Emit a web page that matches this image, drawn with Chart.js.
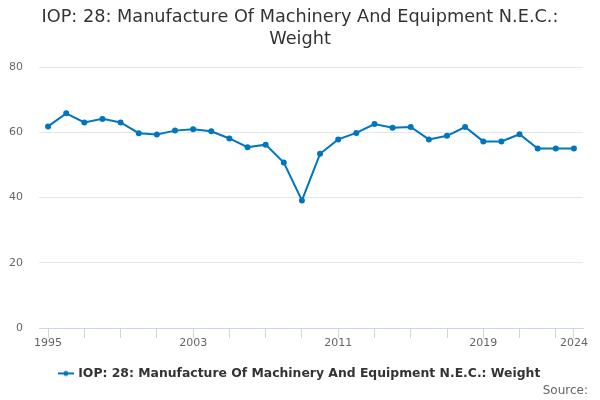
<!DOCTYPE html>
<html>
<head>
<meta charset="utf-8">
<script src="https://cdn.jsdelivr.net/npm/chart.js@4"></script>
<style>
  html, body { margin: 0; padding: 0; background: #fff; }
  #wrap { width: 600px; height: 400px; }
</style>
</head>
<body>
<div id="wrap"><canvas id="chart"></canvas></div>
<script>
const years = ['1995','1996','1997','1998','1999','2000','2001','2002','2003','2004',
  '2005','2006','2007','2008','2009','2010','2011','2012','2013','2014',
  '2015','2016','2017','2018','2019','2020','2021','2022','2023','2024']
const weight = [61.8, 65.8, 63.0, 64.1, 63.0, 59.7, 59.3, 60.5, 60.9, 60.3,
  58.1, 55.4, 56.2, 50.7, 39.1, 53.4, 57.8, 59.8, 62.5, 61.4,
  61.6, 57.8, 58.9, 61.6, 57.2, 57.2, 59.4, 55.0, 55.0, 55.0]
const yTicks = [0, 20, 40, 60, 80]

const seriesName = 'IOP: 28: Manufacture Of Machinery And Equipment N.E.C.: Weight'
const sourceText = 'Source:'
const blue = '#0076bf'
const font = "'DejaVu Sans', sans-serif"

// legend symbol: short line with a dot in the middle
const sym = document.createElement('canvas')
sym.width = 16
sym.height = 8
const sctx = sym.getContext('2d')
sctx.strokeStyle = blue
sctx.lineWidth = 2
sctx.beginPath()
sctx.moveTo(0, 4)
sctx.lineTo(16, 4)
sctx.stroke()
sctx.fillStyle = blue
sctx.beginPath()
sctx.arc(8, 4, 2.5, 0, Math.PI * 2)
sctx.fill()

const last = years.length - 1

// "Source:" note in the bottom right corner
const sourceNote = {
  id: 'sourceNote',
  afterDraw(chart) {
    const c = chart.ctx
    c.save()
    c.font = '12px ' + font
    c.fillStyle = '#666666'
    c.textAlign = 'right'
    c.textBaseline = 'middle'
    c.fillText(sourceText, chart.width - 12, chart.height - 9)
    c.restore()
  }
}

// let the y labels use the left padding instead of being clipped by it
const widenY = {
  id: 'widenY',
  afterLayout(chart) {
    chart.scales.y.left = 0
  }
}

new Chart(document.getElementById('chart'), {
  type: 'line',
  data: {
    labels: years,
    datasets: [{
      label: seriesName,
      data: weight,
      borderColor: blue,
      backgroundColor: blue,
      borderWidth: 2,
      pointRadius: 2,
      pointHoverRadius: 3,
      tension: 0
    }]
  },
  plugins: [sourceNote, widenY],
  options: {
    responsive: true,
    maintainAspectRatio: false,
    animation: false,
    layout: { padding: { left: 17, right: 17, top: 6, bottom: 10.4 } },
    plugins: {
      title: {
        display: true,
        text: ['IOP: 28: Manufacture Of Machinery And Equipment N.E.C.:', 'Weight'],
        color: '#333333',
        font: { family: font, size: 17.7, weight: 'normal', lineHeight: 1.243 },
        padding: { top: 0, bottom: 17 }
      },
      legend: {
        position: 'bottom',
        labels: {
          color: '#333333',
          font: { family: font, size: 12.4, weight: 'bold' },
          usePointStyle: true,
          generateLabels: chart => chart.data.datasets.map((ds, i) => ({
            text: ds.label,
            pointStyle: sym,
            fontColor: '#333333',
            strokeStyle: blue,
            fillStyle: blue,
            datasetIndex: i
          })),
          padding: 18
        }
      },
      tooltip: { enabled: false }
    },
    scales: {
      x: {
        offset: true,
        grid: {
          drawOnChartArea: false,
          drawTicks: true,
          tickLength: 10,
          offset: false,
          color: ctx => (ctx.index % 2 === 0 || ctx.index === last) ? '#ccd6eb' : 'rgba(0,0,0,0)'
        },
        border: { display: true, color: '#ccd6eb' },
        ticks: {
          autoSkip: false,
          maxRotation: 0,
          color: '#666666',
          font: { family: font, size: 11 },
          padding: -1,
          callback: (v, i) => (i % 8 === 0 || i === last) ? years[i] : ''
        }
      },
      y: {
        min: yTicks[0],
        max: yTicks[yTicks.length - 1],
        afterBuildTicks: axis => { axis.ticks = yTicks.map(v => ({ value: v })) },
        afterFit: axis => { axis.width = 22 },
        grid: { color: '#e6e6e6', drawTicks: false },
        border: { display: false },
        ticks: {
          color: '#666666',
          font: { family: font, size: 11 },
          padding: 16
        }
      }
    }
  }
})
</script>
</body>
</html>
